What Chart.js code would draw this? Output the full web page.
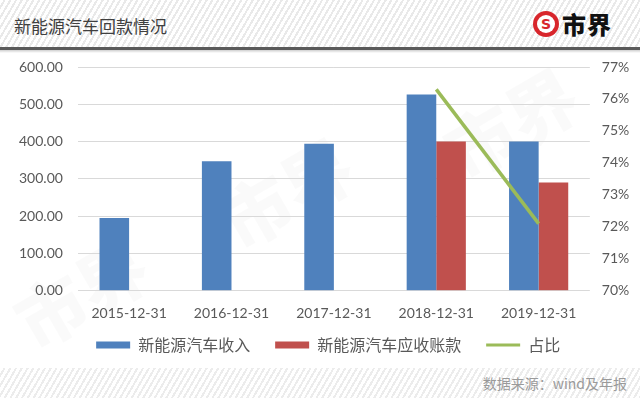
<!DOCTYPE html>
<html>
<head>
<meta charset="utf-8">
<script src="https://cdn.jsdelivr.net/npm/chart.js@4.4.0/dist/chart.umd.min.js"></script>
<style>
  html, body { margin: 0; padding: 0; background: #fff; }
  #wrap { position: relative; width: 640px; height: 398px; overflow: hidden; background: #fff; }
  #header { position: absolute; left: 0; top: 0; width: 640px; height: 47px;
    background: repeating-linear-gradient(120deg, #ffffff 0px, #ffffff 3px, #e9e9e9 3px, #e9e9e9 5px); }
  #sep { position: absolute; left: 0; top: 47px; width: 640px; height: 3px; background: #5a5a5a; }
  #sep2 { position: absolute; left: 0; top: 50px; width: 640px; height: 3px; background: linear-gradient(#cfcfcf, #ffffff); }
  #title { position: absolute; left: 14px; top: 13px; font-family: "Noto Sans CJK SC", sans-serif; font-size: 17px; color: #404040; line-height: 26px; }
  #logoCircle { position: absolute; left: 533px; top: 11px; width: 26px; height: 26px; border-radius: 50%; background: #d8262c; }
  #logoInner { position: absolute; left: 4px; top: 4px; width: 18px; height: 18px; border-radius: 50%; background: #fff;
    font-family: "DejaVu Sans", sans-serif; font-weight: bold; font-size: 14px; line-height: 18px; text-align: center; color: #d8262c; }
  #logoText { position: absolute; left: 562px; top: 8px; font-family: "Noto Sans CJK SC", sans-serif; font-weight: 900; font-size: 24px; line-height: 32px; color: #111; letter-spacing: 1px; }
  #footer { position: absolute; left: 0; top: 368px; width: 640px; height: 30px;
    background: repeating-linear-gradient(120deg, #ffffff 0px, #ffffff 3px, #ececec 3px, #ececec 5px); }
  #source { position: absolute; right: 13px; top: 373px; font-family: "Noto Sans CJK SC", sans-serif; font-size: 14px; color: #9a9a9a; line-height: 20px; }
  .wm { position: absolute; font-family: "Noto Sans CJK SC", sans-serif; font-weight: 900; font-size: 70px; color: rgba(0,0,0,0.018); transform: rotate(-30deg); white-space: nowrap; }
  #c { position: absolute; left: 0; top: 0; }
</style>
</head>
<body>
<div id="wrap">
  <div id="header"></div>
  <div id="sep"></div>
  <div id="sep2"></div>
  <div id="title">新能源汽车回款情况</div>
  <div id="logoCircle"><div id="logoInner">S</div></div>
  <div id="logoText">市界</div>
  <div class="wm" style="left:10px; top:240px;">市界</div>
  <div class="wm" style="left:215px; top:140px;">市界</div>
  <div class="wm" style="left:440px; top:70px;">市界</div>
  <div id="footer"></div>
  <div id="source">数据来源：wind及年报</div>
  <canvas id="c" width="640" height="398"></canvas>
</div>
<script>
const categories = ['2015-12-31', '2016-12-31', '2017-12-31', '2018-12-31', '2019-12-31'];
const revenue = [195, 347, 394, 526, 400];
const receivables = [null, null, null, 400, 290];
const ratio = [null, null, null, 76.3, 72.1];
const seriesNames = ['新能源汽车收入', '新能源汽车应收账款', '占比'];

const tickFont = { family: 'Lato', size: 14 };
const tickColor = '#595959';

// nudges the legend (drawn by Chart.js) to the reference position
const legendNudge = {
  id: 'legendNudge',
  afterLayout(chart) {
    const lg = chart.legend;
    if (!lg) return;
    lg.top -= 10.7; lg.bottom -= 10.7;
    lg.left += 5.5; lg.right += 5.5;
  }
};

new Chart(document.getElementById('c'), {
  data: {
    labels: categories,
    datasets: [
      { type: 'line', label: seriesNames[2], data: ratio, yAxisID: 'y1',
        borderColor: '#9BBB59', backgroundColor: '#9BBB59', borderWidth: 3.5,
        pointRadius: 0, pointHoverRadius: 0, tension: 0, order: 0 },
      { type: 'bar', label: seriesNames[0], data: revenue, yAxisID: 'y',
        backgroundColor: '#4F81BD', borderWidth: 0, order: 1,
        categoryPercentage: 0.578, barPercentage: 1.0 },
      { type: 'bar', label: seriesNames[1], data: receivables, yAxisID: 'y',
        backgroundColor: '#C0504D', borderWidth: 0, order: 2,
        categoryPercentage: 0.578, barPercentage: 1.0 }
    ]
  },
  plugins: [legendNudge],
  options: {
    responsive: false,
    animation: false,
    devicePixelRatio: 1,
    layout: { padding: { left: 4, right: -1.3, top: 67, bottom: 24.3 } },
    plugins: {
      tooltip: { enabled: false },
      legend: {
        position: 'bottom',
        labels: {
          font: { family: 'Noto Sans CJK SC', size: 16 },
          color: '#595959',
          usePointStyle: true,
          pointStyleWidth: 34,
          boxHeight: 7,
          padding: 25,
          sort: (a, b) => {
            const order = [1, 2, 0];
            return order.indexOf(a.datasetIndex) - order.indexOf(b.datasetIndex);
          },
          generateLabels: (chart) => chart.data.datasets.map((ds, i) => ({
            text: ds.label,
            datasetIndex: i,
            fillStyle: ds.backgroundColor,
            strokeStyle: ds.type === 'line' ? ds.borderColor : ds.backgroundColor,
            lineWidth: ds.type === 'line' ? 3 : 0,
            pointStyle: ds.type === 'line' ? 'line' : 'rect',
            fontColor: '#595959',
            hidden: false
          }))
        }
      }
    },
    scales: {
      x: {
        grid: { display: false, drawTicks: false },
        border: { display: false },
        ticks: { font: tickFont, color: tickColor, padding: 14, maxRotation: 0 },
        afterFit: (s) => { s.height = 32; }
      },
      y: {
        position: 'left',
        min: 0, max: 600,
        grid: { color: '#d9d9d9', lineWidth: 1, drawTicks: false },
        border: { display: false },
        ticks: { stepSize: 100, font: tickFont, color: tickColor, padding: 15,
          callback: (v) => Number(v).toFixed(2) }
      },
      y1: {
        position: 'right',
        min: 70, max: 77,
        grid: { display: false, drawTicks: false },
        border: { display: false },
        ticks: { stepSize: 1, font: tickFont, color: tickColor, padding: 12,
          callback: (v) => v + '%' }
      }
    }
  }
});
</script>
</body>
</html>
